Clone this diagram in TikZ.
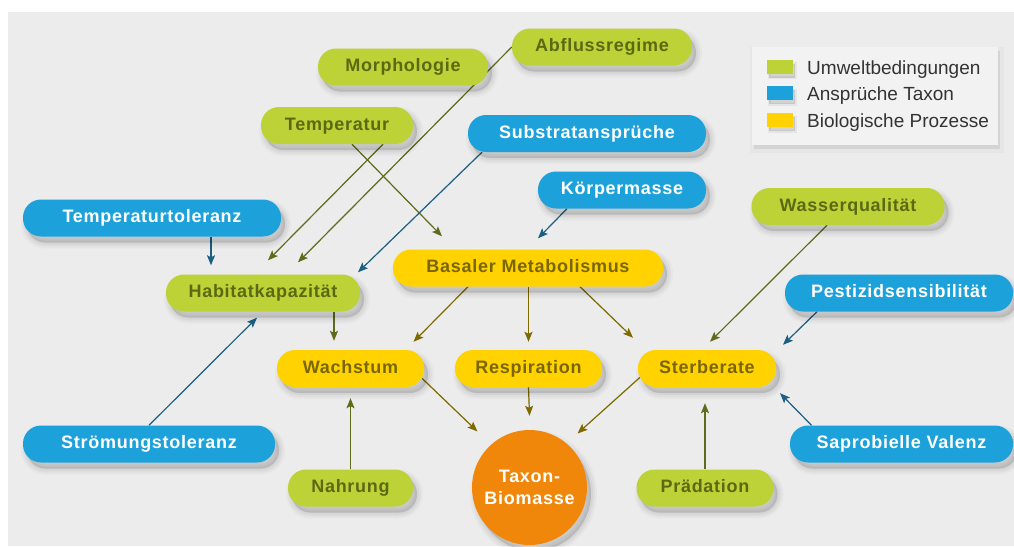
\documentclass[tikz,border=0pt]{standalone}
\usepackage{fontspec}
\setmainfont{Liberation Sans}
\newfontfamily\pillfont[LetterSpace=4]{Liberation Sans}
\usetikzlibrary{arrows.meta, positioning, backgrounds, shadows}
\definecolor{PanelGray}{HTML}{ECECEC}
\definecolor{EnvGreen}{HTML}{BDD237}
\definecolor{EnvText}{HTML}{5B6913}
\definecolor{TaxonBlue}{HTML}{1CA1DB}
\definecolor{ProcYellow}{HTML}{FFD200}
\definecolor{ProcText}{HTML}{7A6600}
\definecolor{MassOrange}{HTML}{F0870A}
\definecolor{EnvArrow}{HTML}{5E6B1B}
\definecolor{ProcArrow}{HTML}{7D6B00}
\definecolor{TaxonArrow}{HTML}{1B5F82}
\definecolor{LegendText}{HTML}{333333}

\begin{document}
\begin{tikzpicture}[
            x=1pt, y=-1pt,
            softshadow/.style={
                general shadow={fill=black, draw=black, line width=12pt, opacity=0.025, shadow xshift=4pt, shadow yshift=-6pt},
                general shadow={fill=black, draw=black, line width=8pt, opacity=0.03, shadow xshift=4pt, shadow yshift=-6pt},
                general shadow={fill=black, draw=black, line width=4pt, opacity=0.035, shadow xshift=4pt, shadow yshift=-6pt},
                general shadow={fill=black, opacity=0.04, shadow xshift=4pt, shadow yshift=-6pt}},
            pill/.style={rectangle, rounded corners=18pt, minimum height=37pt, inner sep=0pt, align=center, text height=13pt, text depth=4pt, font=\pillfont\bfseries\fontsize{18}{22}\selectfont, softshadow},
            envbox/.style={pill, fill=EnvGreen, text=EnvText},
            taxbox/.style={pill, fill=TaxonBlue, text=white},
            procbox/.style={pill, fill=ProcYellow, text=ProcText},
            massbox/.style={circle, minimum size=115pt, inner sep=0pt, align=center, fill=MassOrange, text=white, font=\pillfont\bfseries\fontsize{18}{22}\selectfont, softshadow},
            swatch/.style={rectangle, minimum width=26pt, minimum height=14pt, inner sep=0pt,
                general shadow={fill=black, draw=black, line width=3pt, opacity=0.05, shadow xshift=2pt, shadow yshift=-4pt},
                general shadow={fill=black, opacity=0.08, shadow xshift=2pt, shadow yshift=-4pt}},
            legendtext/.style={inner sep=0pt, anchor=base west, text=LegendText, font=\fontsize{19}{22}\selectfont},
            tip/.style={-{Stealth[length=10pt, width=8pt, inset=2pt]}, line width=1.2pt},
            envarrow/.style={tip, draw=EnvArrow, fill=EnvArrow},
            procarrow/.style={tip, draw=ProcArrow, fill=ProcArrow},
            taxarrow/.style={tip, draw=TaxonArrow, fill=TaxonArrow}
        ]
            \useasboundingbox (0,0) rectangle (1014,546);
            \begin{scope}[on background layer]
                \fill[white] (0,0) rectangle (1014,546);
                \fill[PanelGray] (8,12) rectangle (1014,546);
            \end{scope}

            % legend
            \node[rectangle, fill=PanelGray!70!white, minimum width=246pt, minimum height=98pt,
                general shadow={fill=black, draw=black, line width=8pt, opacity=0.025, shadow xshift=2pt, shadow yshift=-4pt},
                general shadow={fill=black, opacity=0.05, shadow xshift=2pt, shadow yshift=-4pt}] (legend) at (875,96) {};
            \node[swatch, fill=EnvGreen] (swenv) at (780,66.5) {};
            \node[swatch, fill=TaxonBlue, below=12.5pt of swenv] (swtax) {};
            \node[swatch, fill=ProcYellow, below=12.5pt of swtax] (swproc) {};
            \node[legendtext] (lgenv) at (807,74) {Umweltbedingungen};
            \node[legendtext] (lgtax) at (807,100.5) {Anspr\"uche Taxon};
            \node[legendtext] (lgproc) at (807,127) {Biologische Prozesse};

            % nodes
            \node[envbox, minimum width=180pt] (abfluss) at (602,47) {Abflussregime};
            \node[envbox, minimum width=170pt] (morph) at (403,67) {Morphologie};
            \node[envbox, minimum width=152pt] (temp) at (337,125.5) {Temperatur};
            \node[taxbox, minimum width=238pt] (substrat) at (587,133.5) {Substratanspr\"uche};
            \node[taxbox, minimum width=168pt] (koerper) at (622,190) {K\"orpermasse};
            \node[taxbox, minimum width=258pt] (ttol) at (152,218) {Temperaturtoleranz};
            \node[envbox, minimum width=193pt] (wasser) at (848,206.5) {Wasserqualit\"at};
            \node[procbox, minimum width=270pt] (basal) at (528,268) {Basaler Metabolismus};
            \node[envbox, minimum width=194pt] (habitat) at (263,293) {Habitatkapazit\"at};
            \node[taxbox, minimum width=228pt] (pest) at (899,293) {Pestizidsensibilit\"at};
            \node[procbox, minimum width=147pt] (wachstum) at (350.5,368.5) {Wachstum};
            \node[procbox, minimum width=147pt] (resp) at (528.5,368.5) {Respiration};
            \node[procbox, minimum width=138pt] (sterbe) at (707,368.5) {Sterberate};
            \node[taxbox, minimum width=252pt] (stroem) at (149,444) {Str\"omungstoleranz};
            \node[taxbox, minimum width=223pt] (saprob) at (901.5,444) {Saprobielle Valenz};
            \node[envbox, minimum width=125pt] (nahrung) at (350.5,488) {Nahrung};
            \node[envbox, minimum width=137pt] (praed) at (705,488) {Pr\"adation};
            \node[massbox] (taxon) at (529.5,487.5) {Taxon-\\Biomasse};

            % connectors
            \begin{scope}[on background layer]
                \draw[envarrow] (abfluss.west) -- ([shift={(35,-12)}]habitat.north);
                \draw[envarrow] ([shift={(46,0)}]temp.south) -- ([shift={(5,-14)}]habitat.north);
                \draw[envarrow] ([shift={(15,0)}]temp.south) -- ([shift={(-86,-13)}]basal.north);
                \draw[taxarrow] ([shift={(-105,0)}]substrat.south) -- ([shift={(95,-2)}]habitat.north);
                \draw[taxarrow] ([shift={(-55,0)}]koerper.south) -- ([shift={(10,-11)}]basal.north);
                \draw[taxarrow] ([shift={(59,0)}]ttol.south) -- ([shift={(-52,-9)}]habitat.north);
                \draw[envarrow] ([shift={(71,0)}]habitat.south) -- ([shift={(-16.5,-9)}]wachstum.north);
                \draw[taxarrow] (stroem.north) -- ([shift={(-6,6)}]habitat.south);
                \draw[procarrow] ([shift={(-60,0)}]basal.south) -- ([shift={(63,-8)}]wachstum.north);
                \draw[procarrow] ([shift={(0.5,0)}]basal.south) -- ([shift={(0,-8)}]resp.north);
                \draw[procarrow] ([shift={(52,0)}]basal.south) -- ([shift={(-74,-12)}]sterbe.north);
                \draw[envarrow] ([shift={(-21,0)}]wasser.south) -- ([shift={(3,-8)}]sterbe.north);
                \draw[taxarrow] ([shift={(-82,0)}]pest.south) -- ([shift={(76,-5)}]sterbe.north);
                \draw[taxarrow] ([shift={(-90,0)}]saprob.north) -- ([shift={(73,6)}]sterbe.south);
                \draw[envarrow] (praed.north) -- ([shift={(-2,16)}]sterbe.south);
                \draw[envarrow] (nahrung.north) -- ([shift={(0,11)}]wachstum.south);
                \draw[procarrow] ([shift={(-2,10)}]wachstum.east) -- ([shift={(-52,-56)}]taxon.center);
                \draw[procarrow] (resp.south) -- ([shift={(0,-14)}]taxon.north);
                \draw[procarrow] ([shift={(2,9)}]sterbe.west) -- ([shift={(48,-54)}]taxon.center);
            \end{scope}
        \end{tikzpicture}
\end{document}
